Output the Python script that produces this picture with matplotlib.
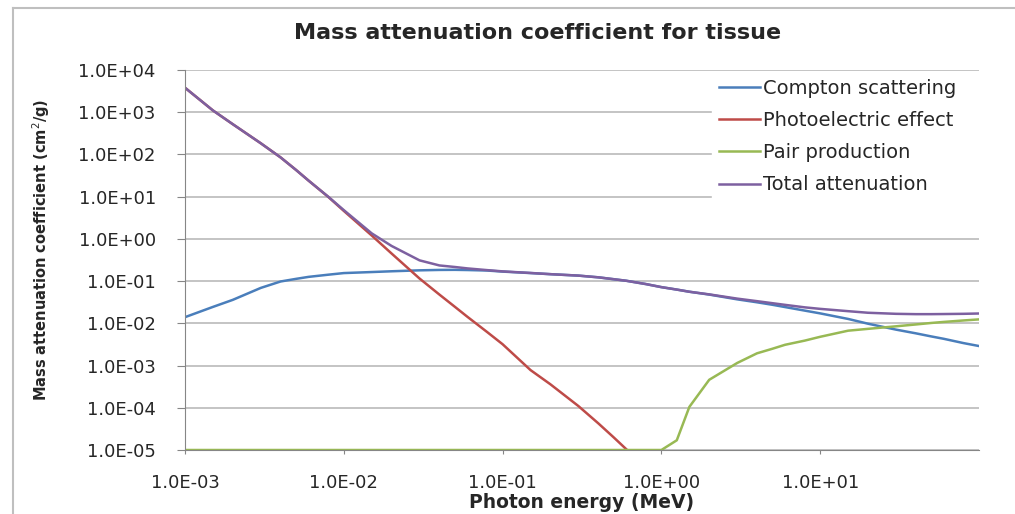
import matplotlib
matplotlib.use("Agg")
import matplotlib.pyplot as plt
from matplotlib.lines import Line2D
from matplotlib.ticker import FixedLocator, FixedFormatter, NullLocator

# photon energy grid (MeV)
energy = [0.001, 0.0015, 0.002, 0.003, 0.004, 0.005, 0.006, 0.008,
          0.01, 0.015, 0.02, 0.03, 0.04, 0.05, 0.06, 0.08,
          0.1, 0.15, 0.2, 0.3, 0.4, 0.5, 0.6, 0.8,
          1.0, 1.25, 1.5, 2.0, 3.0, 4.0, 5.0, 6.0, 8.0,
          10.0, 15.0, 20.0, 30.0, 40.0, 50.0, 60.0, 80.0, 100.0]

# mass attenuation coefficients (cm2/g)
compton = [0.014, 0.0245, 0.036, 0.069, 0.098, 0.113, 0.126, 0.142,
           0.155, 0.164, 0.171, 0.180, 0.184, 0.185, 0.183, 0.178,
           0.168, 0.155, 0.146, 0.135, 0.123, 0.111, 0.102, 0.085,
           0.072, 0.063, 0.056, 0.048, 0.037, 0.0315, 0.0275, 0.0243, 0.020,
           0.0172, 0.0127, 0.0098, 0.0071, 0.0058, 0.0049, 0.0043, 0.0034, 0.0029]

photo_energy = energy[:23]
photoelectric = [3800, 1100, 520, 184, 85, 43, 24, 9.8,
                 4.6, 1.2, 0.45, 0.115, 0.048, 0.0247, 0.0143, 0.0062,
                 0.0032, 7.8e-4, 3.6e-4, 1.1e-4, 4.3e-5, 2.0e-5, 1.05e-5]

pair = [1e-5] * 25 + [1.7e-5, 1.05e-4, 4.6e-4, 1.15e-3, 1.95e-3, 2.5e-3, 3.1e-3, 3.9e-3,
                      4.8e-3, 6.7e-3, 7.4e-3, 8.5e-3, 9.4e-3, 0.0102, 0.0108, 0.0117, 0.0124]

total = [3800, 1100, 520, 184, 85, 43, 24, 9.9,
         4.8, 1.35, 0.68, 0.31, 0.235, 0.216, 0.200, 0.182,
         0.170, 0.156, 0.146, 0.135, 0.123, 0.111, 0.102, 0.085,
         0.072, 0.063, 0.056, 0.0485, 0.0385, 0.0335, 0.030, 0.0274, 0.0239,
         0.022, 0.0194, 0.0178, 0.0168, 0.0165, 0.0165, 0.0166, 0.0168, 0.0171]

series_names = ["Compton scattering", "Photoelectric effect", "Pair production", "Total attenuation"]
series_colors = ["#4A7EBB", "#BE4B48", "#98B954", "#7D60A0"]

xtick_values = [1e-3, 1e-2, 1e-1, 1e0, 1e1]
xtick_labels = ["1.0E-03", "1.0E-02", "1.0E-01", "1.0E+00", "1.0E+01"]
ytick_values = [1e-5, 1e-4, 1e-3, 1e-2, 1e-1, 1e0, 1e1, 1e2, 1e3, 1e4]
ytick_labels = ["1.0E-05", "1.0E-04", "1.0E-03", "1.0E-02", "1.0E-01",
                "1.0E+00", "1.0E+01", "1.0E+02", "1.0E+03", "1.0E+04"]

W, H = 1015, 514
fig = plt.figure(figsize=(W / 100, H / 100), dpi=100)
ax = fig.add_axes([185 / W, 1 - 450 / H, (979 - 185) / W, (450 - 70) / H])

grid_col = "#BFBFBF"
axis_col = "#868686"
text_col = "#262626"

ax.plot(energy, compton, color=series_colors[0], lw=1.8, label=series_names[0])
ax.plot(photo_energy, photoelectric, color=series_colors[1], lw=1.8, label=series_names[1])
ax.plot(energy, pair, color=series_colors[2], lw=1.8, label=series_names[2])
ax.plot(energy, total, color=series_colors[3], lw=1.8, label=series_names[3])

ax.set_xscale("log")
ax.set_yscale("log")
ax.set_xlim(1e-3, 1e2)
ax.set_ylim(1e-5, 1e4)

ax.xaxis.set_major_locator(FixedLocator(xtick_values))
ax.xaxis.set_major_formatter(FixedFormatter(xtick_labels))
ax.xaxis.set_minor_locator(NullLocator())
ax.yaxis.set_major_locator(FixedLocator(ytick_values))
ax.yaxis.set_major_formatter(FixedFormatter(ytick_labels))
ax.yaxis.set_minor_locator(NullLocator())

ax.grid(axis="y", color=grid_col, lw=1.3)
ax.set_axisbelow(True)
for side in ["top", "right"]:
    ax.spines[side].set_visible(False)
for side in ["left", "bottom"]:
    ax.spines[side].set_color(axis_col)
    ax.spines[side].set_linewidth(0.8)

ax.tick_params(axis="x", direction="out", length=3, width=0.8, color=axis_col,
               pad=14, labelsize=13, labelcolor=text_col)
ax.tick_params(axis="y", direction="out", length=6, width=0.8, color=axis_col,
               pad=15, labelsize=13, labelcolor=text_col)

fig.text(538 / W, 1 - 33 / H, "Mass attenuation coefficient for tissue",
         ha="center", va="center", fontsize=16, fontweight="bold", color=text_col)
fig.text(582 / W, 1 - 502 / H, "Photon energy (MeV)",
         ha="center", va="center", fontsize=13.5, fontweight="bold", color=text_col)
fig.text(41 / W, 1 - 250 / H, "Mass attenuation coefficient (cm$^2$/g)",
         ha="center", va="center", rotation=90, fontsize=10.5, fontweight="bold",
         color=text_col)

leg = ax.legend(loc="upper left", bbox_to_anchor=(712 / W, 1 - 72 / H, (1000 - 712) / W, 0),
                bbox_transform=fig.transFigure, mode="expand", fontsize=14,
                handlelength=2.1, handletextpad=0.15, labelspacing=0.68,
                borderpad=0.35, borderaxespad=0, frameon=True, fancybox=False,
                framealpha=1, facecolor="white", edgecolor="white")
for t in leg.get_texts():
    t.set_color(text_col)

# chart area border
fig.add_artist(Line2D([13 / W, 13 / W], [0, 1 - 8 / H], transform=fig.transFigure,
                      color="#BFBFBF", lw=1.5))
fig.add_artist(Line2D([13 / W, 1], [1 - 8 / H, 1 - 8 / H], transform=fig.transFigure,
                      color="#BFBFBF", lw=1.5))

fig.savefig("out.png", dpi=100)
